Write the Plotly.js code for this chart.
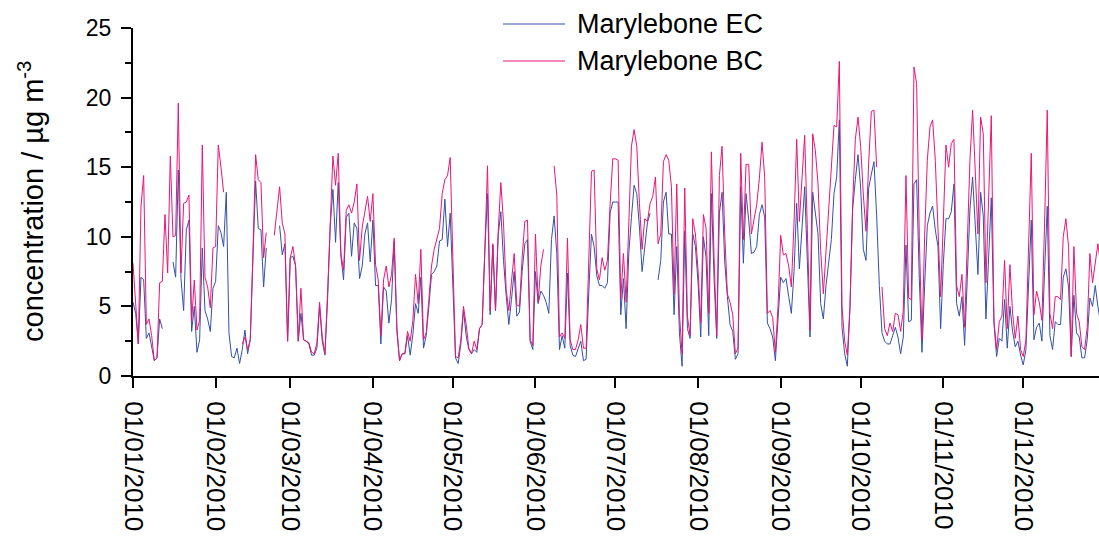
<!DOCTYPE html>
<html>
<head>
<meta charset="utf-8">
<script src="https://cdn.plot.ly/plotly-3.0.1.min.js"></script>
<style>
  html, body { margin: 0; padding: 0; background: #fff; overflow: hidden; }
  #chart { width: 1099px; height: 536px; }
</style>
</head>
<body>
<div id="chart"></div>
<script>
// Daily mean concentrations at Marylebone Road, 2010 (µg m-3); null = no measurement
const startDate = '2010-01-01';
const seriesNames = ['Marylebone EC', 'Marylebone BC'];

// Elemental carbon, one row per month
const ecValues = [
  5.3, 4.5, 2.3, 7.1, 6.9, 2.7, 3.1, 2.2, 1.1, 1.3, 4.1, 3.4, null, null, null, 8.2, 7.1, 14.8, 7.0, 4.7, 10.5, 11.2, 3.2, 5.0, 1.7, 2.6, 9.2, 4.7, 4.1, 3.2, 6.3,
  6.8, 10.8, 10.3, 9.3, 13.2, 3.1, 1.4, 1.3, 2.0, 0.9, 1.9, 3.3, 1.6, 2.6, 8.5, 14.0, 10.6, 10.5, 6.4, 9.2, null, null, null, null, 10.8, 8.7, 9.5, 2.5,
  8.5, 8.6, 7.9, 2.5, 4.5, 2.6, 2.5, 2.3, 1.5, 1.5, 2.0, 5.0, 2.5, 1.5, 5.5, 10.8, 13.4, 9.6, 13.9, 8.6, 6.9, 11.4, 11.7, 8.6, 11.0, 10.6, 7.0, 7.9, 10.2, 11.0, 8.2,
  11.2, 6.5, 6.5, 2.3, 6.4, 6.1, 3.8, 5.5, 9.7, 3.2, 1.1, 1.6, 1.6, 2.9, 1.5, 3.0, 5.2, 4.5, 7.1, 2.0, 2.9, 5.0, 7.3, 7.5, 7.9, 9.7, 9.8, 12.7, 9.3, 11.7,
  6.5, 1.3, 0.9, 2.3, 4.7, 2.9, 1.9, 1.6, 1.9, 1.7, 3.4, 3.7, 9.0, 13.1, 4.4, 9.4, 4.7, 10.1, 11.8, 8.3, 5.8, 3.7, 5.5, 7.5, 4.3, 4.6, 7.5, 9.5, 9.8, 2.5, 1.9,
  7.5, 5.2, 6.1, 5.8, 5.3, 4.5, 9.8, 11.5, 8.8, 1.9, 2.9, 2.0, 7.4, 2.2, 1.5, 1.4, 1.9, 2.5, 1.1, 1.2, 6.0, 10.2, 9.3, 7.2, 6.5, 6.5, 6.3, 6.7, 11.7, 12.5,
  12.5, 12.5, 4.4, 7.0, 3.4, 8.8, 11.4, 13.7, 13.1, 10.7, 7.5, 9.1, 11.0, 11.7, null, null, 6.9, 8.3, 12.5, 13.2, 10.2, 10.2, 4.4, 9.3, 3.1, 0.7, 10.4, 3.4, 2.7, 10.2, 9.3,
  6.7, 2.8, 10.0, 8.5, 2.9, 13.1, 7.0, 2.7, 11.7, 13.2, 8.2, 5.7, 3.7, 3.2, 1.2, 1.6, 13.6, 8.1, 13.1, 11.2, 8.8, 8.9, 9.3, 11.6, 12.3, 11.4, 3.8, 3.4, 2.8, 1.1, 4.5,
  7.1, 6.7, 7.0, 5.7, 4.5, 7.5, 12.4, 7.7, 10.6, 13.6, 8.2, 2.8, 13.2, 11.8, 10.2, 5.2, 4.1, 6.5, 8.2, 9.8, 13.1, 14.3, 18.4, 3.5, 1.6, 0.7, 5.0, 12.0, 14.1, 15.9,
  13.5, 9.1, 8.3, 13.5, 14.5, 15.4, 11.5, 6.5, 3.1, 2.5, 2.3, 2.3, 2.9, 3.5, 2.8, 1.6, 2.8, 9.4, 3.9, 4.0, 13.8, 14.1, 7.0, 1.7, 6.5, 10.8, 11.7, 12.2, 10.5, 9.3, 3.4,
  8.0, 11.3, 11.3, 11.8, 13.8, 5.2, 4.3, 5.7, 2.2, 7.0, 12.0, 14.3, 11.0, 7.3, 13.2, 11.5, 4.1, 8.0, 12.8, 3.8, 1.4, 2.7, 2.5, 5.5, 2.0, 5.0, 3.2, 2.1, 2.5, 1.5,
  0.8, 1.9, 7.0, 11.2, 2.6, 3.5, 3.8, 2.5, 7.5, 12.2, 2.9, 1.9, 3.9, 3.7, 3.7, 7.1, 7.7, 6.4, 1.4, 5.8, 3.1, 2.8, 1.3, 1.3, 2.6, 5.6, 5.0, 6.5, 5.0, 3.8, 4.0
];

// Black carbon, one row per month
const bcValues = [
  8.1, 5.5, 2.3, 12.2, 14.4, 3.7, 4.1, 2.9, 1.1, 1.3, 6.7, 6.8, 11.6, 7.4, 15.8, 10.0, 10.1, 19.6, 7.4, 12.4, 12.5, 13.0, 3.9, 6.9, 3.3, 4.0, 16.6, 7.1, 6.4, 4.9, 9.2,
  9.3, 16.6, 15.0, 13.2, null, null, null, null, null, null, 2.3, 2.8, 1.9, 2.6, 8.8, 15.9, 14.1, 13.9, 8.5, 10.3, null, null, 10.1, 12.0, 13.6, 11.0, 10.2, 2.5,
  8.5, 9.3, 7.9, 2.5, 6.3, 2.6, 2.5, 2.4, 1.7, 1.6, 2.4, 5.3, 2.8, 1.6, 6.0, 11.2, 15.8, 13.7, 16.0, 8.8, 7.6, 11.9, 12.3, 11.7, 12.5, 13.8, 8.3, 10.7, 11.9, 12.9, 11.1,
  13.1, 8.0, 6.9, 2.9, 6.9, 7.9, 6.4, 7.3, 9.9, 3.5, 1.1, 1.6, 1.6, 3.2, 2.5, 4.0, 7.3, 5.2, 9.1, 2.6, 3.1, 5.5, 7.9, 9.1, 9.9, 10.6, 13.1, 14.1, 14.4, 15.7,
  8.5, 1.4, 1.3, 2.6, 5.0, 3.7, 2.0, 1.6, 2.5, 1.9, 3.4, 3.7, 9.0, 15.1, 4.7, 9.5, 4.7, 10.3, 13.9, 11.0, 6.2, 4.7, 6.8, 8.8, 5.1, 5.0, 8.5, 11.1, 11.2, 2.6, 2.2,
  10.2, 5.3, 7.9, 9.1, null, null, null, 15.1, 13.0, 2.8, 3.1, 2.7, 9.9, 2.6, 1.9, 1.9, 2.6, 3.7, 2.0, 2.0, 8.0, 14.7, 14.8, 7.7, 6.9, 8.5, 7.6, 8.3, 12.3, 15.6,
  15.6, 15.5, 5.5, 8.8, 5.3, 11.2, 16.5, 17.7, 16.5, 12.4, 9.1, 11.3, 11.1, 12.4, 12.9, 14.3, 9.5, 10.2, 15.4, 15.9, 15.5, 13.6, 5.9, 13.8, 4.5, 1.6, 13.5, 4.3, 2.9, 11.3, 10.2,
  7.6, 3.8, 11.6, 10.6, 4.5, 16.1, 8.5, 2.9, 14.4, 16.5, 10.2, 5.9, 5.3, 4.4, 1.6, 2.0, 16.0, 9.8, 15.2, 15.2, 10.2, 11.4, 12.3, 14.2, 16.8, 14.3, 4.5, 4.7, 4.2, 1.7, 5.0,
  10.1, 8.7, 8.8, 7.9, 6.4, 11.0, 17.0, 11.1, 14.2, 17.3, 10.5, 3.3, 17.4, 16.2, 13.8, 9.0, 5.9, 9.0, 12.5, 15.5, 18.0, 17.9, 22.6, 5.0, 2.5, 1.5, 5.0, 12.4, 17.0, 18.6,
  16.5, 13.0, 10.4, 15.3, 19.0, 19.1, 15.0, null, 6.4, 3.4, 2.9, 3.8, 3.2, 4.5, 4.4, 3.2, 4.7, 14.4, 5.6, 5.5, 22.2, 21.0, 10.0, 2.6, 10.0, 15.5, 17.9, 18.4, 15.5, 10.0, 5.7,
  11.0, 16.6, 15.0, 16.7, 17.0, 6.5, 5.7, 7.3, 3.5, 9.0, 15.5, 19.1, 14.0, 10.2, 18.6, 17.4, 6.7, 12.0, 18.7, 4.0, 1.9, 3.9, 4.3, 8.3, 3.4, 8.0, 4.5, 2.7, 4.3, 1.9,
  1.4, 2.6, 9.0, 16.0, 4.4, 6.1, 5.3, 4.0, 11.0, 19.1, 4.5, 3.4, 5.7, 5.7, 5.5, 10.0, 11.3, 9.3, 1.4, 9.3, 4.5, 3.9, 2.1, 1.9, 3.5, 8.8, 6.7, 8.3, 9.5, 8.0, 7.5
];

// One date per value, counted from the start date
function dayString(i) {
  const d = new Date(Date.parse(startDate + 'T00:00:00Z') + i * 86400000);
  return d.toISOString().slice(0, 10);
}
const dates = ecValues.map((_, i) => dayString(i));

const colors = { ec: '#3350AA', bc: '#EC1477' };
const fontFamily = '"Liberation Sans", Arial, Helvetica, sans-serif';

const traces = [
  { x: dates, y: ecValues, name: seriesNames[0], type: 'scatter', mode: 'lines',
    line: { color: colors.ec, width: 1 }, connectgaps: false },
  { x: dates, y: bcValues, name: seriesNames[1], type: 'scatter', mode: 'lines',
    line: { color: colors.bc, width: 1 }, connectgaps: false }
];

// Plot box in pixels, used to place the hand-built legend and axis title
const W = 1099, H = 536;
const M = { l: 133, r: 0, t: 28, b: 160 };
const pw = W - M.l - M.r, ph = H - M.t - M.b;
const px = x => (x - M.l) / pw;
const py = y => (H - M.b - y) / ph;

const legendRows = [
  { label: seriesNames[0], color: colors.ec, y: 24 },
  { label: seriesNames[1], color: colors.bc, y: 61 }
];

const layout = {
  width: W, height: H,
  margin: M,
  paper_bgcolor: '#fff', plot_bgcolor: '#fff',
  showlegend: false,
  font: { family: fontFamily, color: '#000', size: 22 },
  xaxis: {
    type: 'date',
    range: ['2010-01-01', '2010-12-29 10:00'],
    tickmode: 'linear', tick0: '2010-01-01', dtick: 'M1',
    tickformat: '%d/%m/%Y', tickangle: 90,
    ticks: 'outside', ticklen: 10, tickwidth: 2, tickcolor: '#000',
    ticklabelstandoff: 8,
    showline: true, linecolor: '#000', linewidth: 2,
    showgrid: false, zeroline: false,
    tickfont: { size: 26, family: fontFamily, color: '#000' }
  },
  yaxis: {
    range: [0, 25], tickmode: 'linear', tick0: 0, dtick: 5,
    ticks: 'outside', ticklen: 10, tickwidth: 2, tickcolor: '#000',
    ticklabelstandoff: 5,
    minor: { dtick: 2.5, ticks: 'outside', ticklen: 6, tickwidth: 2, tickcolor: '#000', showgrid: false },
    showline: true, linecolor: '#000', linewidth: 2,
    showgrid: false, zeroline: false,
    tickfont: { size: 23, family: fontFamily, color: '#000' }
  },
  shapes: legendRows.map(r => ({
    type: 'line', xref: 'paper', yref: 'paper',
    x0: px(503), x1: px(565), y0: py(r.y), y1: py(r.y),
    line: { color: r.color, width: 1 }
  })),
  annotations: legendRows.map(r => ({
    xref: 'paper', yref: 'paper', x: px(575), y: py(r.y),
    xanchor: 'left', yanchor: 'middle', showarrow: false,
    text: r.label, font: { size: 27, family: fontFamily, color: '#000' }
  })).concat([{
    xref: 'paper', yref: 'paper', x: px(31), y: py(202),
    xanchor: 'center', yanchor: 'middle', showarrow: false, textangle: -90,
    text: 'concentration / µg m<sup>-3</sup>',
    font: { size: 29, family: fontFamily, color: '#000' }
  }])
};

Plotly.newPlot('chart', traces, layout, { staticPlot: true, displayModeBar: false });
</script>
</body>
</html>
